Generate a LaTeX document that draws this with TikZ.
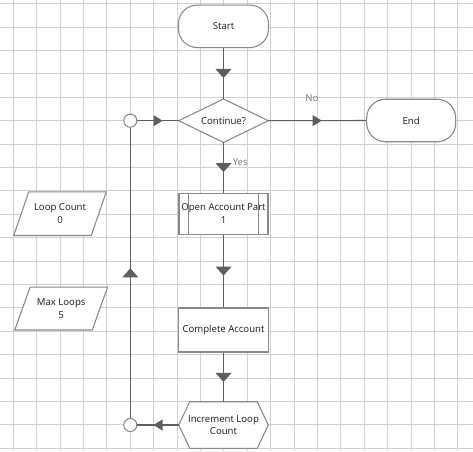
\documentclass[tikz,border=0pt]{standalone}
\usepackage{fontspec}
\setmainfont{Open Sans}
\usetikzlibrary{decorations.markings}
\definecolor{gridc}{HTML}{D0D0D0}
\definecolor{shapec}{HTML}{8A8A8A}
\definecolor{linec}{HTML}{5E5E5E}
\definecolor{lblc}{HTML}{7A7A7A}
\definecolor{txtc}{HTML}{1A1A1A}
\begin{document}
\begin{tikzpicture}[x=0.75pt,y=-0.75pt,
  txt/.style={inner sep=0pt, align=center, text=txtc, font=\fontsize{7.2}{9.4}\selectfont},
  box/.style={txt, draw=shapec, fill=white, line width=0.8pt},
  ghost/.style={txt},
  outl/.style={draw=shapec, fill=white, line width=0.8pt},
  conn/.style={draw=linec, line width=0.8pt},
  midv/.style={postaction={decorate}, decoration={markings,
      mark=at position 0.5 with {\fill[linec] (-3.4pt,-6pt) -- (3.4pt,0pt) -- (-3.4pt,6pt) -- cycle;}}},
  midh/.style={postaction={decorate}, decoration={markings,
      mark=at position 0.5 with {\fill[linec] (-3.4pt,-4.2pt) -- (3.4pt,0pt) -- (-3.4pt,4.2pt) -- cycle;}}},
  lbl/.style={inner sep=0pt, text=lblc, font=\fontsize{7.2}{9.4}\selectfont},
  joint/.style={circle, draw=shapec, fill=white, line width=0.8pt, minimum size=9.8pt, inner sep=0pt}
]
\useasboundingbox (0,0) rectangle (473,451);
\fill[white] (0,0) rectangle (473,451);
% grid
\foreach \i in {0,...,19} {
  \draw[gridc, line width=0.75pt] (13.3+23.4*\i,0) -- (13.3+23.4*\i,451);
  \draw[gridc, line width=0.75pt] (0,3.6+23.4*\i) -- (473,3.6+23.4*\i);
}
% nodes
\node[box, rounded corners=14pt, minimum width=67.5pt, minimum height=31.9pt] (start) at (223.5,26.3) {Start};
\node[ghost, minimum width=66.75pt, minimum height=32.25pt] (cont) at (223.5,120.7) {Continue?};
\node[box, rounded corners=14pt, minimum width=66.75pt, minimum height=31.9pt] (end) at (411.2,120.5) {End};
\node[box, minimum width=66.75pt, minimum height=30.75pt] (open) at (223.5,213.7) {Open Account Part\\1};
\node[box, line width=1.3pt, minimum width=67.5pt, minimum height=33pt] (complete) at (223.5,330.3) {Complete Account};
\node[ghost, minimum width=66.75pt, minimum height=34.5pt] (inc) at (223.5,425) {Increment Loop\\Count};
\node[ghost, minimum width=69pt, minimum height=32.25pt] (loop) at (60,213.7) {Loop Count\\0};
\node[ghost, minimum width=69.2pt, minimum height=31.8pt] (maxl) at (61.2,308.5) {Max Loops\\5};
\node[joint] (c1) at (130.3,120.7) {};
\node[joint] (c2) at (130.3,425) {};
% shape outlines drawn around ghost nodes
\draw[outl] (cont.north) -- (cont.east) -- (cont.south) -- (cont.west) -- cycle;
\node[txt] at (cont.center) {Continue?};
\draw[outl] ([xshift=8.25pt]inc.north west) -- ([xshift=-8.25pt]inc.north east) -- (inc.east)
  -- ([xshift=-8.25pt]inc.south east) -- ([xshift=8.25pt]inc.south west) -- (inc.west) -- cycle;
\node[txt] at (inc.center) {Increment Loop\\Count};
\draw[outl] ([xshift=11.25pt]loop.north west) -- (loop.north east) -- ([xshift=-11.25pt]loop.south east) -- (loop.south west) -- cycle;
\node[txt] at (loop.center) {Loop Count\\0};
\draw[outl] ([xshift=11.5pt]maxl.north west) -- (maxl.north east) -- ([xshift=-11.5pt]maxl.south east) -- (maxl.south west) -- cycle;
\node[txt] at (maxl.center) {Max Loops\\5};
\draw[shapec, line width=0.8pt] ([xshift=7.5pt]open.north west) -- ([xshift=7.5pt]open.south west);
\draw[shapec, line width=0.8pt] ([xshift=-7.5pt]open.north east) -- ([xshift=-7.5pt]open.south east);
% connectors
\draw[conn, midv] (start.south) -- (cont.north);
\draw[conn, midh] (cont.east) -- (end.west);
\draw[conn, midv] (cont.south) -- (open.north);
\draw[conn, midv] (open.south) -- (complete.north);
\draw[conn, midv] (complete.south) -- (inc.north);
\draw[conn, midh] (inc.west) -- (c2);
\draw[conn, midv] (c2) -- (c1);
\draw[conn, midh] (c1) -- (cont.west);
% labels
\node[lbl] (nolbl) at (312,98) {No};
\node[lbl, anchor=west] (yeslbl) at (232.5,162.5) {Yes};
\end{tikzpicture}
\end{document}
